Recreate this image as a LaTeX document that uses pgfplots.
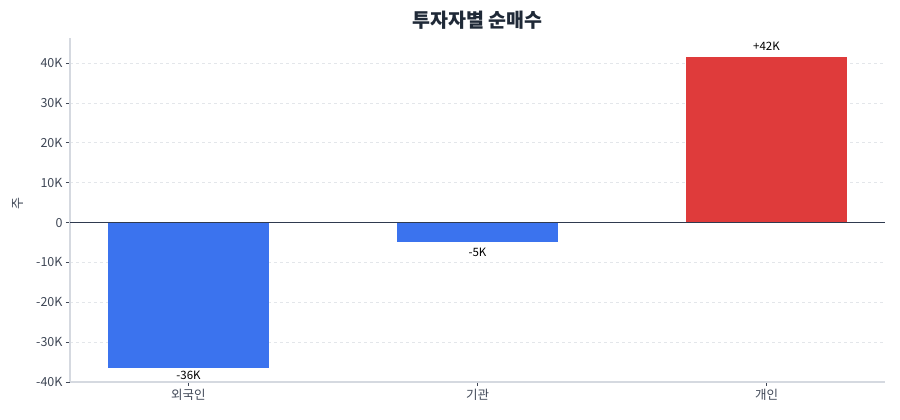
\documentclass[border=0pt]{standalone}
\usepackage{fontspec}
\setmainfont{Noto Sans CJK KR}
\usepackage{pgfplots}
\pgfplotsset{compat=1.18}
\definecolor{barblue}{HTML}{3B73EE}
\definecolor{barred}{HTML}{DF3B3B}
\definecolor{zeroline}{HTML}{2F3A4F}
\definecolor{ticktext}{HTML}{3F4756}
\definecolor{titletext}{HTML}{1F2937}
\definecolor{spine}{HTML}{D5D9E0}
\definecolor{gridc}{HTML}{E3E6EA}

\begin{document}
\begin{tikzpicture}[x=1pt,y=1pt]
\useasboundingbox[fill=white] (0,0) rectangle (900,420);
\begin{axis}[
  at={(70pt,38pt)}, anchor=south west,
  scale only axis,
  width=815pt, height=344pt,
  ybar, bar width=161pt, bar shift=0pt,
  xmin=-0.41, xmax=2.41,
  ymin=-40000, ymax=46300,
  xtick={0,1,2},
  xticklabels={외국인,기관,개인},
  ytick={-40000,-30000,-20000,-10000,0,10000,20000,30000,40000},
  yticklabels={-40K,-30K,-20K,-10K,0,10K,20K,30K,40K},
  scaled y ticks=false,
  axis x line*=bottom, axis y line*=left,
  axis line style={draw=spine, line width=1.5pt},
  tick align=outside,
  major tick length=4pt,
  tick style={draw=ticktext, line width=0.8pt},
  ymajorgrids=true,
  grid style={dashed, draw=gridc, line width=0.8pt},
  tick label style={font=\fontsize{12.5}{14}\selectfont, text=ticktext},
  ylabel={주},
  ylabel style={font=\fontsize{13}{15}\selectfont, text=ticktext, at={(-52pt,0.52)}, anchor=center},
  title={\textbf{투자자별 순매수}},
  title style={font=\fontsize{19.5}{23}\selectfont, text=titletext, at={(0.5,1)}, anchor=base, yshift=4pt},
  nodes near coords,
  point meta=explicit symbolic,
  every node near coord/.append style={font=\fontsize{11.5}{13}\selectfont, text=black, inner sep=2pt},
  clip=false,
]
\addplot[fill=barblue, draw=none, every node near coord/.append style={anchor=north, yshift=-1pt}] table[meta=lab] {
x y lab
0 -36500 -36K
};
\addplot[fill=barblue, draw=none, every node near coord/.append style={anchor=north, yshift=-4pt}] table[meta=lab] {
x y lab
1 -4900 -5K
};
\addplot[fill=barred, draw=none, every node near coord/.append style={yshift=4pt}] table[meta=lab] {
x y lab
2 41600 +42K
};
\draw[zeroline, line width=1.2pt] (axis cs:-0.41,0) -- (axis cs:2.41,0);
\end{axis}
\end{tikzpicture}
\end{document}
